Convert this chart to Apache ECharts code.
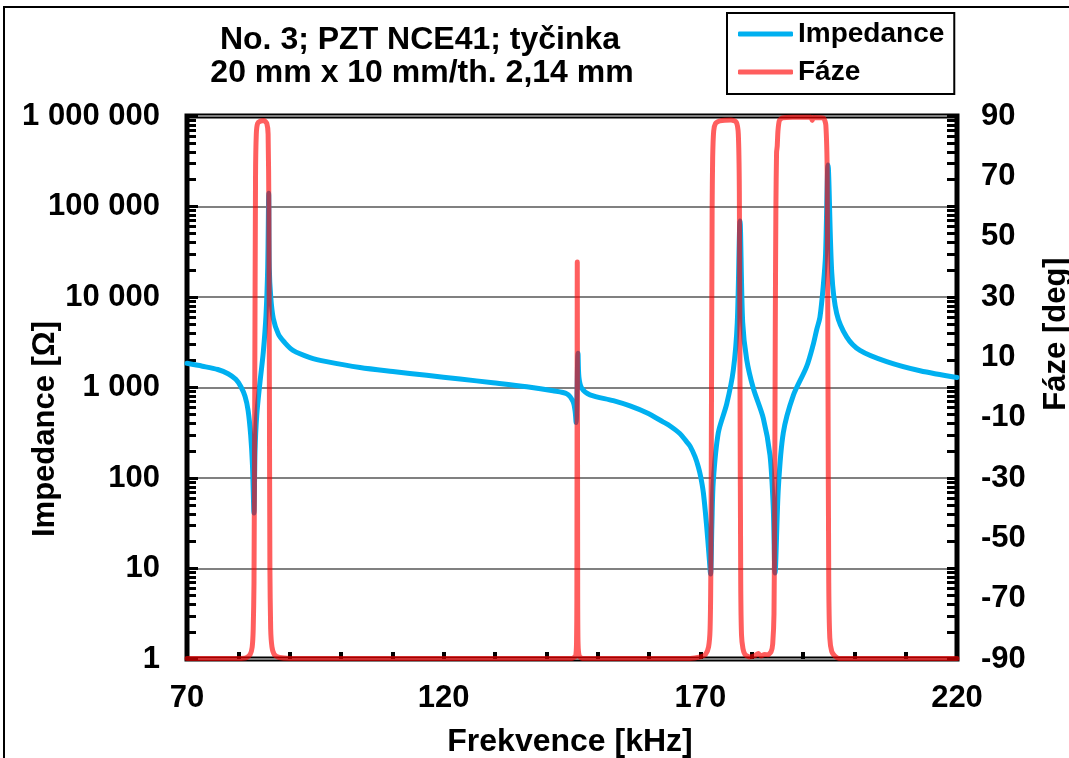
<!DOCTYPE html>
<html>
<head>
<meta charset="utf-8">
<script src="https://cdn.jsdelivr.net/npm/echarts@6/dist/echarts.min.js"></script>
<style>
html,body{margin:0;padding:0;background:#fff;}
#chart{width:1069px;height:758px;}
</style>
</head>
<body>
<div id="chart"></div>
<script>
// ---- data ----
const titleLines = ['No. 3; PZT NCE41; tyčinka', '20 mm x 10 mm/th. 2,14 mm'];
const seriesNames = ['Impedance', 'Fáze'];
const xLabels = [70, 120, 170, 220];
const phaseTicks = [-90, -70, -50, -30, -10, 10, 30, 50, 70, 90];
const decades = [1, 10, 100, 1000, 10000, 100000, 1000000];

// Impedance [Ohm] vs frequency [kHz]
const impFreq = [70, 73, 76, 78, 79.5, 80.5, 81.3, 81.9, 82.4, 82.75, 83.05, 83.25, 83.58, 84.22, 84.86, 85.39, 85.72, 85.92, 86.03, 86.31, 86.81, 87.79, 88.9, 90.65, 93.96, 97.2, 103.7, 110.1, 116.7, 123.2, 129.6, 136.2, 141.3, 144.0, 145.2, 145.6, 145.8, 146.17, 146.35, 146.9, 148.5, 153.05, 156.3, 159.55, 162.8, 164.1, 166.0, 167.35, 168.0, 168.96, 169.6, 170.07, 170.6, 171.24, 171.65, 172.0, 172.25, 172.53, 173.5, 175.14, 176.42, 177.2, 177.73, 178.25, 179.03, 180.32, 182.27, 183.57, 184.2, 184.55, 185.2, 186.16, 188.1, 190.7, 192.0, 192.67, 193.3, 193.96, 194.4, 194.87, 195.6, 196.56, 198.5, 201.1, 206.3, 212.8, 220];
const impValues = [1850, 1720, 1580, 1420, 1230, 1020, 800, 560, 300, 140, 41, 195, 490, 1150, 2450, 6300, 21000, 140000, 21000, 10000, 5800, 3900, 3200, 2570, 2140, 1930, 1660, 1500, 1365, 1240, 1130, 1020, 920, 850, 700, 550, 410, 2390, 1300, 980, 830, 715, 625, 525, 415, 376, 310, 251, 225, 172, 133, 103, 68, 29, 15, 8.7, 30, 93, 316, 660, 1550, 5250, 69000, 5250, 2040, 980, 457, 178, 48, 8.9, 78, 316, 813, 1700, 3000, 4370, 6000, 13500, 30000, 288000, 18600, 6600, 3630, 2570, 1930, 1530, 1290];

// Phase [deg] vs frequency [kHz]
const phaseFreq = [70, 80, 81.5, 82.3, 82.7, 82.9, 83.05, 83.2, 83.35, 83.5, 83.75, 84.3, 85.0, 85.55, 85.8, 85.95, 86.05, 86.15, 86.3, 86.55, 87.0, 88.0, 90, 145.0, 145.7, 145.88, 145.95, 146.03, 146.11, 146.18, 146.4, 147, 168, 170, 171.0, 171.6, 171.9, 172.05, 172.18, 172.3, 172.4, 172.6, 172.95, 173.8, 176.0, 177.0, 177.4, 177.6, 177.73, 177.87, 178.02, 178.3, 178.7, 179.5, 180.5, 181.3, 181.8, 182.5, 183.2, 183.8, 184.1, 184.35, 184.48, 184.6, 184.72, 184.85, 184.98, 185.12, 185.4, 186.0, 188.0, 191.5, 191.8, 192.05, 194.0, 194.45, 194.72, 194.87, 195.02, 195.22, 195.6, 196.2, 197, 220];
const phaseValues = [-89.8, -89.8, -89.6, -88.5, -86, -80, -65, 0, 70, 84, 87.5, 88.3, 88.5, 87.5, 84, 60, 0, -60, -80, -86, -88.5, -89.5, -89.8, -89.8, -89, -85, -70, 41.6, -70, -85, -89, -89.8, -89.8, -89.3, -88.5, -86, -80, -60, 0, 60, 76, 85, 87.5, 88.4, 88.7, 88, 84, 65, 0, -65, -82, -86.5, -88.5, -89.3, -89.0, -88.2, -89.0, -88.5, -88.6, -87.5, -85, -75, -40, 20, 60, 78, 80, 85, 88.5, 89.4, 89.6, 89.6, 88.5, 89.5, 89.3, 87, 70, 0, -65, -83, -87.5, -89, -89.8, -89.8];

// ---- build ----
const FONT = '"Liberation Sans", Arial, sans-serif';
const impData = impFreq.map((f, i) => [f, impValues[i]]);
const phaseData = phaseFreq.map((f, i) => [f, phaseValues[i]]);
const minorTicks = [];
decades.slice(0, -1).forEach(d => { for (let k = 2; k <= 9; k++) minorTicks.push(d * k); });
const allLogTicks = decades.concat(minorTicks);
const fmtSpace = v => String(Math.round(v)).replace(/\B(?=(\d{3})+(?!\d))/g, ' ');

const chart = echarts.init(document.getElementById('chart'), null, {renderer: 'canvas'});
const labelStyle = {color: '#000', fontFamily: FONT, fontWeight: 'bold', fontSize: 31};

chart.setOption({
  animation: false,
  backgroundColor: '#fff',
  grid: {left: 187, right: 112, top: 116, bottom: 99, show: true, borderColor: '#000', borderWidth: 5, backgroundColor: 'transparent'},
  legend: {
    orient: 'vertical', left: 727, top: 13,
    padding: [6, 10, 7, 11], itemGap: 8,
    borderColor: '#000', borderWidth: 2,
    itemWidth: 55, itemHeight: 5, icon: 'roundRect',
    textStyle: {color: '#000', fontFamily: FONT, fontWeight: 'bold', fontSize: 28, lineHeight: 30},
    data: seriesNames
  },
  xAxis: {
    type: 'value', min: 70, max: 220, interval: 10,
    axisLine: {show: false, onZero: false},
    axisTick: {show: true, inside: true, length: 7, lineStyle: {color: '#000', width: 4}},
    splitLine: {show: false},
    axisLabel: Object.assign({margin: 24, formatter: v => (xLabels.indexOf(v) >= 0 ? String(v) : '')}, labelStyle)
  },
  yAxis: [
    {
      type: 'log', logBase: 10, min: 1, max: 1000000, splitNumber: 6, position: 'left',
      axisLine: {show: false, onZero: false},
      axisTick: {show: true, inside: true, length: 11, lineStyle: {color: '#000', width: 3}},
      splitLine: {show: true, lineStyle: {color: '#808080', width: 2}},
      axisLabel: Object.assign({margin: 27, formatter: fmtSpace}, labelStyle)
    },
    {
      type: 'value', min: -90, max: 90, interval: 20, position: 'right',
      axisLine: {show: false, onZero: false}, axisTick: {show: false}, splitLine: {show: false},
      axisLabel: Object.assign({margin: 24, formatter: v => (phaseTicks.indexOf(v) >= 0 ? String(v) : '')}, labelStyle)
    },
    {
      type: 'log', logBase: 10, min: 1, max: 1000000, position: 'left',
      axisLine: {show: false, onZero: false}, splitLine: {show: false}, axisLabel: {show: false},
      axisTick: {show: true, inside: true, length: 9, customValues: minorTicks, lineStyle: {color: '#000', width: 3}}
    },
    {
      type: 'log', logBase: 10, min: 1, max: 1000000, position: 'right',
      axisLine: {show: false, onZero: false}, splitLine: {show: false}, axisLabel: {show: false},
      axisTick: {show: true, inside: true, length: 10, customValues: allLogTicks, lineStyle: {color: '#000', width: 3}}
    }
  ],
  series: [
    {
      name: seriesNames[0], type: 'line', yAxisIndex: 0, data: impData,
      symbol: 'none', smooth: 0.3, color: '#00B0F0', z: 3,
      lineStyle: {color: '#00B0F0', width: 5, cap: 'round', join: 'round'}
    },
    {
      name: seriesNames[1], type: 'line', yAxisIndex: 1, data: phaseData,
      symbol: 'none', smooth: 0.2, color: 'rgba(255,0,0,0.63)', z: 4,
      lineStyle: {color: 'rgba(255,0,0,0.63)', width: 5, cap: 'round', join: 'round'}
    }
  ],
  graphic: [
    {type: 'rect', silent: true, shape: {x: 4, y: 7, width: 1080, height: 770}, style: {fill: 'none', stroke: '#000', lineWidth: 2}},
    {type: 'text', x: 420, y: 40, style: {text: titleLines[0], font: 'bold 32px ' + FONT, fill: '#000', align: 'center', verticalAlign: 'middle', textAlign: 'center', textVerticalAlign: 'middle'}},
    {type: 'text', x: 422, y: 73, style: {text: titleLines[1], font: 'bold 32px ' + FONT, fill: '#000', align: 'center', verticalAlign: 'middle', textAlign: 'center', textVerticalAlign: 'middle'}},
    {type: 'text', x: 45, y: 429, rotation: Math.PI / 2, style: {text: 'Impedance [Ω]', font: 'bold 31px ' + FONT, fill: '#000', align: 'center', verticalAlign: 'middle', textAlign: 'center', textVerticalAlign: 'middle'}},
    {type: 'text', x: 1056, y: 334, rotation: Math.PI / 2, style: {text: 'Fáze [deg]', font: 'bold 31px ' + FONT, fill: '#000', align: 'center', verticalAlign: 'middle', textAlign: 'center', textVerticalAlign: 'middle'}},
    {type: 'text', x: 570, y: 742, style: {text: 'Frekvence [kHz]', font: 'bold 32px ' + FONT, fill: '#000', align: 'center', verticalAlign: 'middle', textAlign: 'center', textVerticalAlign: 'middle'}}
  ]
});
</script>
</body>
</html>
